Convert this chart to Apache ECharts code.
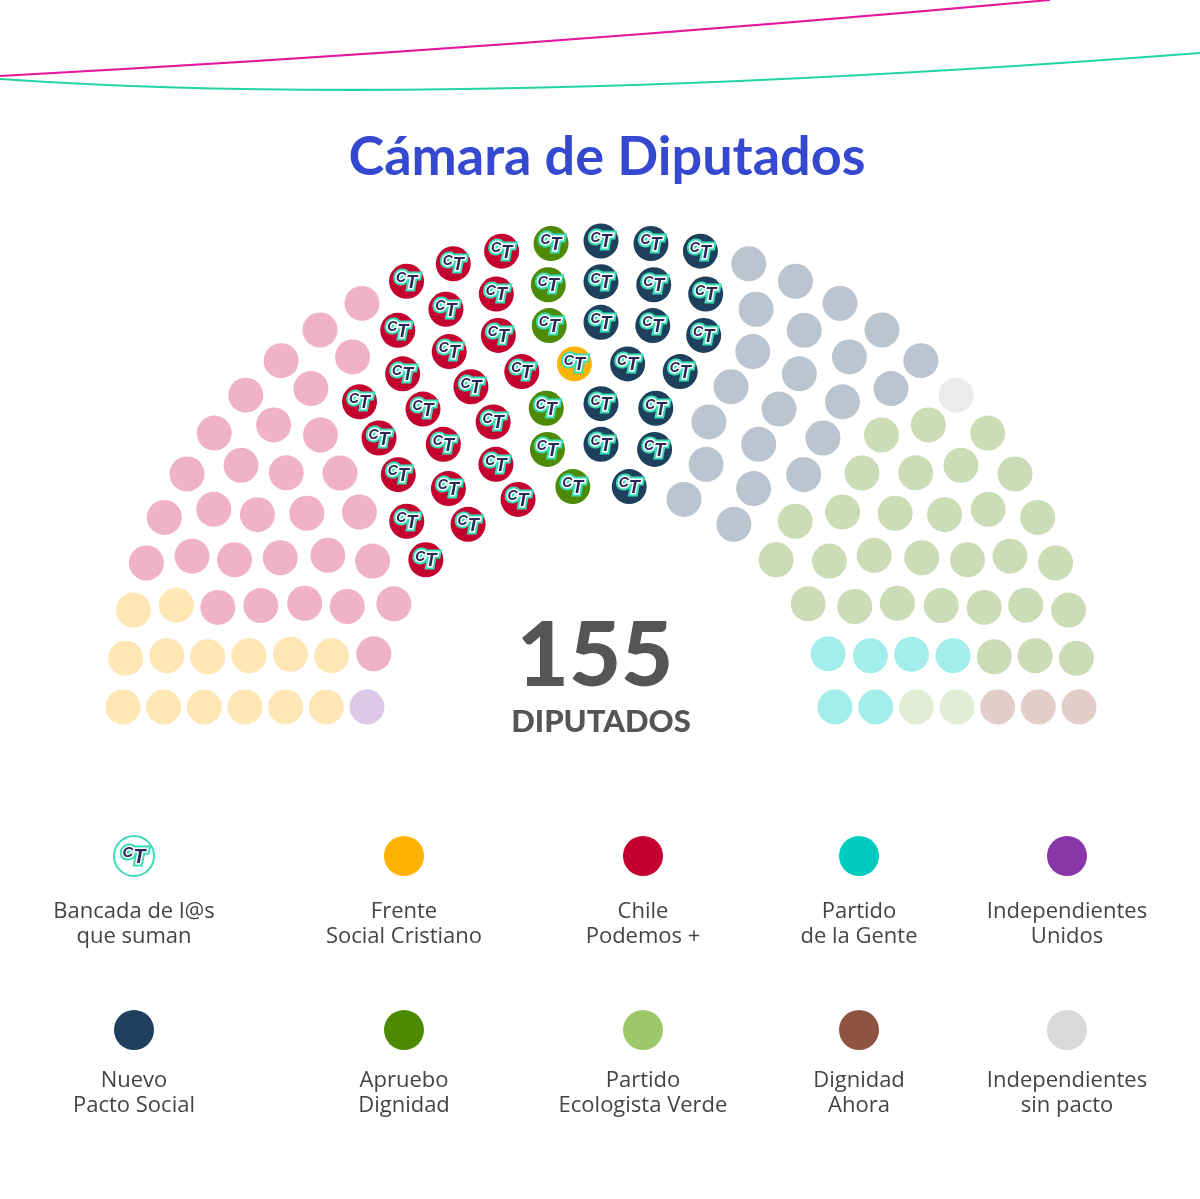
<!DOCTYPE html>
<html>
<head>
<meta charset="utf-8">
<script src="https://cdn.jsdelivr.net/npm/echarts@6/dist/echarts.min.js"></script>
<style>
html,body{margin:0;padding:0;background:#ffffff;}
#chart{width:1200px;height:1199px;}
</style>
</head>
<body>
<div id="chart"></div>
<script>
// ---------------- DATA ----------------
// seats per row (inner row first)
const rowSeats = [14, 17, 19, 22, 25, 27, 31];
// party runs per row, from left (180°) to right (0°)
const row1 = [['IU',1],['CP',2],['CP_CT',3],['AD_CT',1],['NPS_CT',1],['NPS',2],['AD',2],['PDG',2]];
const row2 = [['FSC',2],['CP',2],['CP_CT',3],['AD_CT',1],['NPS_CT',2],['NPS',2],['AD',3],['PDG',2]];
const row3 = [['FSC',2],['CP',3],['CP_CT',3],['AD_CT',1],['NPS_CT',2],['NPS',3],['AD',3],['PDG',1],['PEV',1]];
const row4 = [['FSC',2],['CP',4],['CP_CT',4],['FSC_CT',1],['NPS_CT',2],['NPS',3],['AD',4],['PDG',1],['PEV',1]];
const row5 = [['FSC',2],['CP',5],['CP_CT',4],['AD_CT',1],['NPS_CT',3],['NPS',3],['AD',6],['DA',1]];
const row6 = [['FSC',3],['CP',6],['CP_CT',3],['AD_CT',1],['NPS_CT',3],['NPS',4],['AD',6],['DA',1]];
const row7 = [['FSC',3],['CP',8],['CP_CT',3],['AD_CT',1],['NPS_CT',3],['NPS',5],['IND',1],['AD',6],['DA',1]];
const rows = [row1, row2, row3, row4, row5, row6, row7];

// "_CT" = member of the Bancada (drawn with the CT logo)
const ctParties = ['CP_CT','AD_CT','FSC_CT','NPS_CT'];

const legendLabels = [
  ['Bancada de l@s','que suman'],
  ['Frente','Social Cristiano'],
  ['Chile','Podemos +'],
  ['Partido','de la Gente'],
  ['Independientes','Unidos'],
  ['Nuevo','Pacto Social'],
  ['Apruebo','Dignidad'],
  ['Partido','Ecologista Verde'],
  ['Dignidad','Ahora'],
  ['Independientes','sin pacto']
];
const titleText = 'Cámara de Diputados';
const centerLabel = 'DIPUTADOS';

// ---------------- STYLE ----------------
const seatColors = {
  FSC:'#FEE6B5', IU:'#DDC9E7', CP:'#EFB3C5', CP_CT:'#C4002F', AD_CT:'#4E8A06',
  FSC_CT:'#FDB300', NPS_CT:'#1F405C', NPS:'#BAC5CF', IND:'#EBEBEB', AD:'#CBDCB7',
  PDG:'#A3EEEA', PEV:'#E2EDD3', DA:'#E3CDC8'
};
const legendColors = [null,'#FFB300','#C3002F','#00CBBF','#8836A8','#1F405C','#4E8A00','#9DC86A','#8F5341','#D9D9D9'];
const legendX = [134, 404, 643, 859, 1067];
const legendCircleY = [856, 1030];
const legendTextY = [912, 1081];

const innerR = 234, rowGap = 40.67, vShrink = 12;
const NAVY = '#2A2857', TEAL = '#38DDB6';

// ---------------- LAYOUT ----------------
function expand(runs){ const out=[]; runs.forEach(([p,n])=>{for(let i=0;i<n;i++)out.push(p);}); return out; }
const seats = [];
rowSeats.forEach((n, i) => {
  const R = innerR + i * rowGap;
  const Rv = R - vShrink;
  const seq = expand(rows[i]);
  for (let j = 0; j < n; j++) {
    const a = Math.PI * (1 - j / (n - 1));
    seats.push({ value: [R * Math.cos(a), Rv * Math.sin(a)], party: seq[j] });
  }
});
const total = rowSeats.reduce((a, b) => a + b, 0);

// rich text for the CT logo (C raised and smaller, T larger)
function logoRich(border, bw, scale) {
  const base = {fontFamily:'"Liberation Sans"', fontWeight:'bold', fontStyle:'italic', color:NAVY, textBorderColor:border, textBorderWidth:bw};
  return {
    c: Object.assign({}, base, {fontSize:Math.round(14*scale), padding:[0,0,Math.round(6*scale),0]}),
    t: Object.assign({}, base, {fontSize:Math.round(18*scale), padding:[Math.round(3*scale),0,0,0]})
  };
}
function graphicRich(border, bw, scale) {
  const base = {fontFamily:'Liberation Sans', fontWeight:'bold', fontStyle:'italic', fill:NAVY, stroke:border, lineWidth:bw};
  return {
    c: Object.assign({}, base, {fontSize:Math.round(14*scale), padding:[0,0,Math.round(6*scale),0]}),
    t: Object.assign({}, base, {fontSize:Math.round(18*scale), padding:[Math.round(3*scale),0,0,0]})
  };
}

const chart = echarts.init(document.getElementById('chart'), null, {renderer:'canvas'});

const graphics = [];
// decorative curves on top
graphics.push({type:'bezierCurve', shape:{x1:0,y1:76,cpx1:520,cpy1:48,x2:1050,y2:0}, style:{stroke:'#E5189B', lineWidth:2.2, fill:null}, silent:true});
graphics.push({type:'bezierCurve', shape:{x1:0,y1:79,cpx1:450,cpy1:110,x2:1200,y2:53}, style:{stroke:'#22D4A4', lineWidth:2.2, fill:null}, silent:true});
// title
graphics.push({type:'text', x:607, y:158, style:{text:titleText, fill:'#3449CF', font:'bold 54px Lato', textAlign:'center', textVerticalAlign:'middle'}});
// center numbers
graphics.push({type:'text', x:595, y:657, style:{text:String(total), fill:'#555555', font:'900 90px Lato', textAlign:'center', textVerticalAlign:'middle'}});
graphics.push({type:'text', x:601, y:722, style:{text:centerLabel, fill:'#555555', font:'900 31px Lato', textAlign:'center', textVerticalAlign:'middle'}});

// legend
legendLabels.forEach((lines, k) => {
  const col = k % 5, r = Math.floor(k / 5);
  const x = legendX[col], cy = legendCircleY[r], ty = legendTextY[r];
  if (legendColors[k]) {
    graphics.push({type:'circle', shape:{cx:x, cy:cy, r:20}, style:{fill:legendColors[k]}});
  } else {
    graphics.push({type:'circle', shape:{cx:x, cy:cy, r:20}, style:{fill:'#ffffff', stroke:TEAL, lineWidth:2}});
    graphics.push({type:'text', x:x, y:cy, z:10, style:{text:'{c|C}{t|T}', rich:graphicRich(TEAL, 7, 1.1), textAlign:'center', textVerticalAlign:'middle'}});
    graphics.push({type:'text', x:x, y:cy, z:11, style:{text:'{c|C}{t|T}', rich:graphicRich('#ffffff', 3, 1.1), textAlign:'center', textVerticalAlign:'middle'}});
  }
  graphics.push({type:'text', x:x, y:ty, style:{text:lines[0], fill:'#444444', font:'500 22px "Open Sans"', textAlign:'center', textVerticalAlign:'middle'}});
  graphics.push({type:'text', x:x, y:ty+25, style:{text:lines[1], fill:'#444444', font:'500 22px "Open Sans"', textAlign:'center', textVerticalAlign:'middle'}});
});

const isCT = p => ctParties.indexOf(p) >= 0;

chart.setOption({
  animation:false,
  backgroundColor:'#ffffff',
  grid:{left:0, right:0, top:0, bottom:492},
  xAxis:{type:'value', min:-601, max:599, show:false},
  yAxis:{type:'value', min:0, max:707, show:false},
  series:[
    {
      type:'scatter', name:'Escaños', z:2, silent:true,
      symbol:'circle', symbolSize:35,
      data: seats.map(s => ({
        value:s.value,
        itemStyle:{color:seatColors[s.party], opacity:1},
        label:{show:isCT(s.party)}
      })),
      label:{formatter:'{c|C}{t|T}', position:'inside', rich:logoRich(TEAL, 7, 1)}
    },
    {
      type:'scatter', name:'Bancada', z:3, silent:true,
      symbol:'circle', symbolSize:35,
      itemStyle:{color:'rgba(0,0,0,0)', opacity:1},
      data: seats.filter(s => isCT(s.party)).map(s => s.value),
      label:{show:true, formatter:'{c|C}{t|T}', position:'inside', rich:logoRich('#ffffff', 3, 1)}
    }
  ],
  graphic: graphics
});
</script>
</body>
</html>
